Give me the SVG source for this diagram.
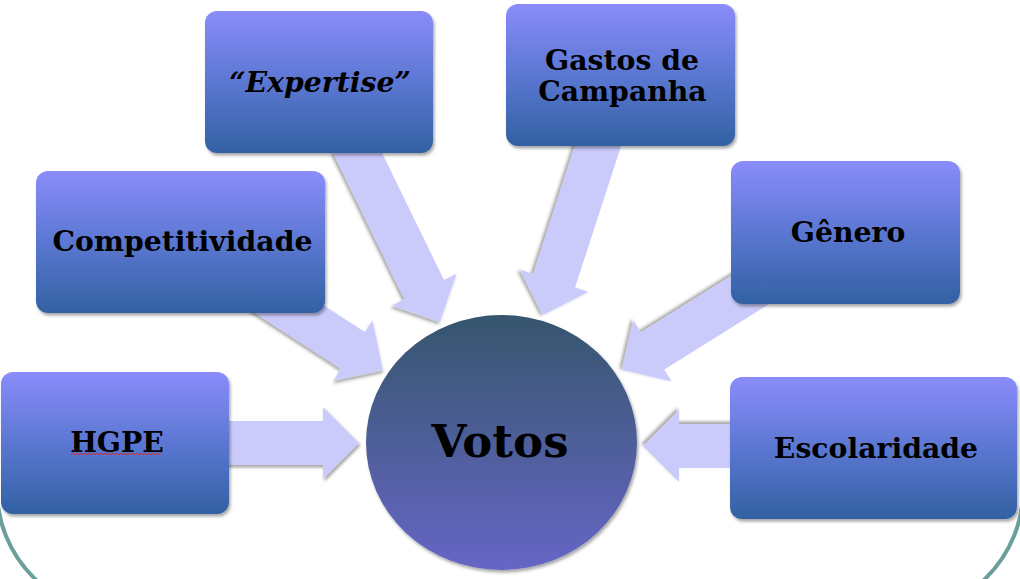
<svg xmlns="http://www.w3.org/2000/svg" width="1020" height="579" viewBox="0 0 1020 579">
<defs>
<linearGradient id="boxg" x1="0" y1="0" x2="0" y2="1">
<stop offset="0" stop-color="#8a8cfa"/>
<stop offset="0.5" stop-color="#5b77d2"/>
<stop offset="1" stop-color="#3261a2"/>
</linearGradient>
<linearGradient id="circg" x1="0" y1="0" x2="0" y2="1">
<stop offset="0" stop-color="#36566d"/>
<stop offset="1" stop-color="#6666c6"/>
</linearGradient>
<filter id="sh" x="-10%" y="-10%" width="130%" height="130%">
<feDropShadow dx="1.5" dy="2.5" stdDeviation="1.8" flood-color="#000" flood-opacity="0.35"/>
</filter>
<path id="arr" d="M-200,-22 H-36 V-36 L0,0 L-36,36 V22 H-200 Z"/>
</defs>
<style>
.box{fill:url(#boxg);filter:url(#sh);}
.lbl{font-family:"DejaVu Serif","Liberation Serif",serif;font-weight:bold;font-size:28.3px;fill:#000;text-anchor:middle;}
.conn use{fill:#cbcbfb;filter:url(#sh);}
</style>
<rect x="-3" y="-200" width="1026" height="815" rx="128" ry="125" fill="none" stroke="#6b9f9b" stroke-width="4"/>
<g id="connectors" class="conn">
<use href="#arr" transform="translate(359,443)"/>
<use href="#arr" transform="translate(643,446) rotate(180)"/>
<use href="#arr" transform="translate(383,370) rotate(33)"/>
<use href="#arr" transform="translate(440,322) rotate(64)"/>
<use href="#arr" transform="translate(543,315) rotate(108)"/>
<use href="#arr" transform="translate(622,370) rotate(148)"/>
</g>
<g id="votos">
<ellipse cx="501.5" cy="442.5" rx="135.5" ry="127.5" fill="url(#circg)" filter="url(#sh)"/>
<text class="lbl" x="500" y="457" style="font-size:45px">Votos</text>
</g>
<g id="hgpe">
<rect class="box" x="1" y="372" width="228" height="142" rx="12"/>
<text class="lbl" x="117" y="452">HGPE</text>
<path d="M71,455 l2,-2 l2,2 l2,-2 l2,2 l2,-2 l2,2 l2,-2 l2,2 l2,-2 l2,2 l2,-2 l2,2 l2,-2 l2,2 l2,-2 l2,2 l2,-2 l2,2 l2,-2 l2,2 l2,-2 l2,2 l2,-2 l2,2 l2,-2 l2,2 l2,-2 l2,2 l2,-2 l2,2 l2,-2 l2,2 l2,-2 l2,2 l2,-2 l2,2 l2,-2 l2,2 l2,-2 l2,2 l2,-2 l2,2 l2,-2 l2,2 l2,-2" fill="none" stroke="#e02020" stroke-width="0.9"/>
</g>
<g id="competitividade">
<rect class="box" x="36" y="171" width="289" height="142" rx="12"/>
<text class="lbl" x="182.5" y="251">Competitividade</text>
</g>
<g id="expertise">
<rect class="box" x="205" y="11" width="228" height="142" rx="12"/>
<text class="lbl" x="320" y="92" font-style="italic">“Expertise”</text>
</g>
<g id="gastos">
<rect class="box" x="506" y="4" width="229" height="142" rx="12"/>
<text class="lbl" x="622" y="70">Gastos de</text>
<text class="lbl" x="622.5" y="101">Campanha</text>
</g>
<g id="genero">
<rect class="box" x="731" y="161" width="229" height="143" rx="12"/>
<text class="lbl" x="848" y="242">Gênero</text>
</g>
<g id="escolaridade">
<rect class="box" x="730" y="377" width="287" height="142" rx="12"/>
<text class="lbl" x="876" y="458">Escolaridade</text>
</g>
</svg>
